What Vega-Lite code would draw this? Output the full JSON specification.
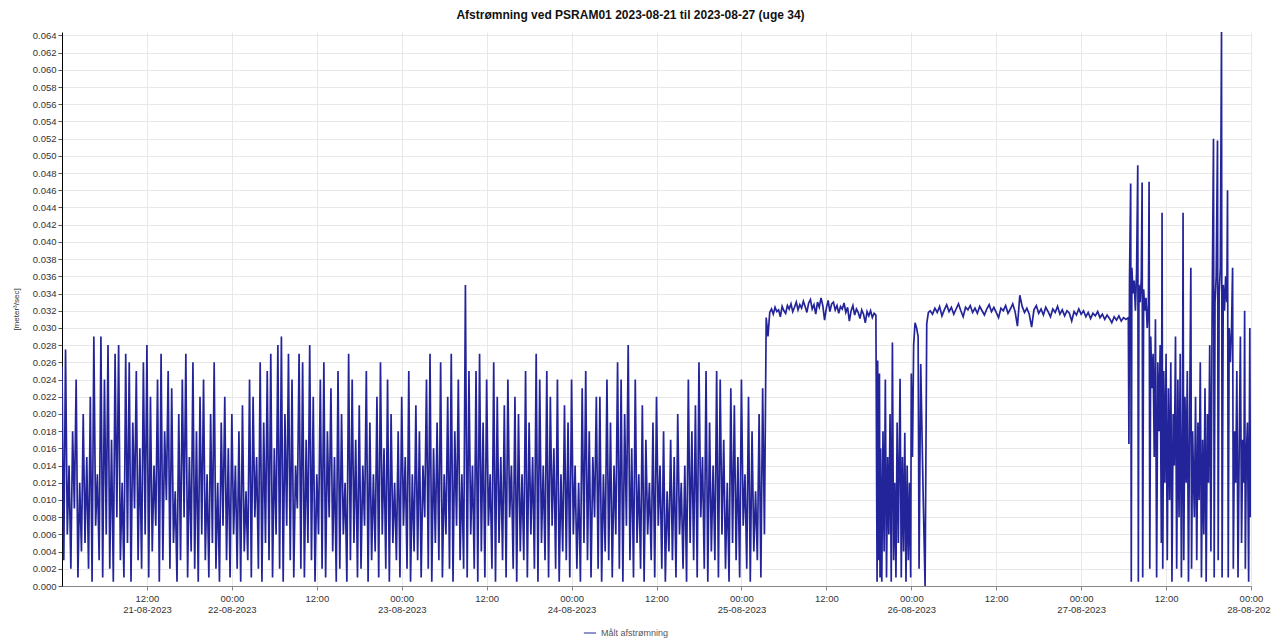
{
"$schema": "https://vega.github.io/schema/vega-lite/v6.json",
"width": 1189,
"height": 554,
"autosize": {"type": "none"},
"padding": {"left": 62, "top": 32, "right": 20, "bottom": 57},
"background": "white",
"config": {"font": "Liberation Sans", "view": {"stroke": null}},
"title": {"text": "Afstrømning ved PSRAM01 2023-08-21 til 2023-08-27 (uge 34)", "fontSize": 12, "fontWeight": "bold", "color": "#111111", "offset": 8, "dx": -26},
"data": {"values": [
{"t":"2023-08-21T00:00","v":0.0255},{"t":"2023-08-21T00:15","v":0.003},{"t":"2023-08-21T00:30","v":0.0275},{"t":"2023-08-21T00:45","v":0.006},
{"t":"2023-08-21T01:00","v":0.014},{"t":"2023-08-21T01:15","v":0.002},{"t":"2023-08-21T01:30","v":0.018},{"t":"2023-08-21T01:45","v":0.009},
{"t":"2023-08-21T02:00","v":0.024},{"t":"2023-08-21T02:15","v":0.001},{"t":"2023-08-21T02:30","v":0.012},{"t":"2023-08-21T02:45","v":0.004},
{"t":"2023-08-21T03:00","v":0.020},{"t":"2023-08-21T03:15","v":0.005},{"t":"2023-08-21T03:30","v":0.015},{"t":"2023-08-21T03:45","v":0.002},
{"t":"2023-08-21T04:00","v":0.022},{"t":"2023-08-21T04:15","v":0.0005},{"t":"2023-08-21T04:30","v":0.029},{"t":"2023-08-21T04:45","v":0.007},
{"t":"2023-08-21T05:00","v":0.013},{"t":"2023-08-21T05:15","v":0.003},{"t":"2023-08-21T05:30","v":0.029},{"t":"2023-08-21T05:45","v":0.001},
{"t":"2023-08-21T06:00","v":0.024},{"t":"2023-08-21T06:15","v":0.006},{"t":"2023-08-21T06:30","v":0.028},{"t":"2023-08-21T06:45","v":0.002},
{"t":"2023-08-21T07:00","v":0.017},{"t":"2023-08-21T07:15","v":0.0005},{"t":"2023-08-21T07:30","v":0.027},{"t":"2023-08-21T07:45","v":0.008},
{"t":"2023-08-21T08:00","v":0.028},{"t":"2023-08-21T08:15","v":0.003},{"t":"2023-08-21T08:30","v":0.012},{"t":"2023-08-21T08:45","v":0.001},
{"t":"2023-08-21T09:00","v":0.027},{"t":"2023-08-21T09:15","v":0.005},{"t":"2023-08-21T09:30","v":0.026},{"t":"2023-08-21T09:45","v":0.0005},
{"t":"2023-08-21T10:00","v":0.019},{"t":"2023-08-21T10:15","v":0.009},{"t":"2023-08-21T10:30","v":0.025},{"t":"2023-08-21T10:45","v":0.003},
{"t":"2023-08-21T11:00","v":0.016},{"t":"2023-08-21T11:15","v":0.002},{"t":"2023-08-21T11:30","v":0.026},{"t":"2023-08-21T11:45","v":0.006},
{"t":"2023-08-21T12:00","v":0.028},{"t":"2023-08-21T12:15","v":0.001},{"t":"2023-08-21T12:30","v":0.022},{"t":"2023-08-21T12:45","v":0.004},
{"t":"2023-08-21T13:00","v":0.014},{"t":"2023-08-21T13:15","v":0.007},{"t":"2023-08-21T13:30","v":0.024},{"t":"2023-08-21T13:45","v":0.0005},
{"t":"2023-08-21T14:00","v":0.027},{"t":"2023-08-21T14:15","v":0.003},{"t":"2023-08-21T14:30","v":0.018},{"t":"2023-08-21T14:45","v":0.010},
{"t":"2023-08-21T15:00","v":0.025},{"t":"2023-08-21T15:15","v":0.002},{"t":"2023-08-21T15:30","v":0.023},{"t":"2023-08-21T15:45","v":0.005},
{"t":"2023-08-21T16:00","v":0.011},{"t":"2023-08-21T16:15","v":0.0005},{"t":"2023-08-21T16:30","v":0.020},{"t":"2023-08-21T16:45","v":0.003},
{"t":"2023-08-21T17:00","v":0.024},{"t":"2023-08-21T17:15","v":0.008},{"t":"2023-08-21T17:30","v":0.027},{"t":"2023-08-21T17:45","v":0.001},
{"t":"2023-08-21T18:00","v":0.015},{"t":"2023-08-21T18:15","v":0.004},{"t":"2023-08-21T18:30","v":0.026},{"t":"2023-08-21T18:45","v":0.002},
{"t":"2023-08-21T19:00","v":0.018},{"t":"2023-08-21T19:15","v":0.0005},{"t":"2023-08-21T19:30","v":0.022},{"t":"2023-08-21T19:45","v":0.006},
{"t":"2023-08-21T20:00","v":0.024},{"t":"2023-08-21T20:15","v":0.003},{"t":"2023-08-21T20:30","v":0.013},{"t":"2023-08-21T20:45","v":0.001},
{"t":"2023-08-21T21:00","v":0.020},{"t":"2023-08-21T21:15","v":0.005},{"t":"2023-08-21T21:30","v":0.026},{"t":"2023-08-21T21:45","v":0.002},
{"t":"2023-08-21T22:00","v":0.012},{"t":"2023-08-21T22:15","v":0.0005},{"t":"2023-08-21T22:30","v":0.019},{"t":"2023-08-21T22:45","v":0.007},
{"t":"2023-08-21T23:00","v":0.022},{"t":"2023-08-21T23:15","v":0.003},{"t":"2023-08-21T23:30","v":0.016},{"t":"2023-08-21T23:45","v":0.001},
{"t":"2023-08-22T00:00","v":0.020},{"t":"2023-08-22T00:15","v":0.006},{"t":"2023-08-22T00:30","v":0.014},{"t":"2023-08-22T00:45","v":0.002},
{"t":"2023-08-22T01:00","v":0.018},{"t":"2023-08-22T01:15","v":0.0005},{"t":"2023-08-22T01:30","v":0.021},{"t":"2023-08-22T01:45","v":0.004},
{"t":"2023-08-22T02:00","v":0.011},{"t":"2023-08-22T02:15","v":0.003},{"t":"2023-08-22T02:30","v":0.024},{"t":"2023-08-22T02:45","v":0.001},
{"t":"2023-08-22T03:00","v":0.022},{"t":"2023-08-22T03:15","v":0.008},{"t":"2023-08-22T03:30","v":0.015},{"t":"2023-08-22T03:45","v":0.002},
{"t":"2023-08-22T04:00","v":0.026},{"t":"2023-08-22T04:15","v":0.0005},{"t":"2023-08-22T04:30","v":0.019},{"t":"2023-08-22T04:45","v":0.005},
{"t":"2023-08-22T05:00","v":0.025},{"t":"2023-08-22T05:15","v":0.003},{"t":"2023-08-22T05:30","v":0.027},{"t":"2023-08-22T05:45","v":0.001},
{"t":"2023-08-22T06:00","v":0.016},{"t":"2023-08-22T06:15","v":0.006},{"t":"2023-08-22T06:30","v":0.028},{"t":"2023-08-22T06:45","v":0.002},
{"t":"2023-08-22T07:00","v":0.029},{"t":"2023-08-22T07:15","v":0.0005},{"t":"2023-08-22T07:30","v":0.020},{"t":"2023-08-22T07:45","v":0.007},
{"t":"2023-08-22T08:00","v":0.027},{"t":"2023-08-22T08:15","v":0.003},{"t":"2023-08-22T08:30","v":0.024},{"t":"2023-08-22T08:45","v":0.001},
{"t":"2023-08-22T09:00","v":0.014},{"t":"2023-08-22T09:15","v":0.009},{"t":"2023-08-22T09:30","v":0.027},{"t":"2023-08-22T09:45","v":0.002},
{"t":"2023-08-22T10:00","v":0.026},{"t":"2023-08-22T10:15","v":0.001},{"t":"2023-08-22T10:30","v":0.017},{"t":"2023-08-22T10:45","v":0.005},
{"t":"2023-08-22T11:00","v":0.028},{"t":"2023-08-22T11:15","v":0.003},{"t":"2023-08-22T11:30","v":0.022},{"t":"2023-08-22T11:45","v":0.0005},
{"t":"2023-08-22T12:00","v":0.013},{"t":"2023-08-22T12:15","v":0.006},{"t":"2023-08-22T12:30","v":0.024},{"t":"2023-08-22T12:45","v":0.002},
{"t":"2023-08-22T13:00","v":0.026},{"t":"2023-08-22T13:15","v":0.001},{"t":"2023-08-22T13:30","v":0.018},{"t":"2023-08-22T13:45","v":0.008},
{"t":"2023-08-22T14:00","v":0.023},{"t":"2023-08-22T14:15","v":0.004},{"t":"2023-08-22T14:30","v":0.015},{"t":"2023-08-22T14:45","v":0.0005},
{"t":"2023-08-22T15:00","v":0.025},{"t":"2023-08-22T15:15","v":0.002},{"t":"2023-08-22T15:30","v":0.020},{"t":"2023-08-22T15:45","v":0.006},
{"t":"2023-08-22T16:00","v":0.012},{"t":"2023-08-22T16:15","v":0.0005},{"t":"2023-08-22T16:30","v":0.027},{"t":"2023-08-22T16:45","v":0.003},
{"t":"2023-08-22T17:00","v":0.024},{"t":"2023-08-22T17:15","v":0.005},{"t":"2023-08-22T17:30","v":0.017},{"t":"2023-08-22T17:45","v":0.001},
{"t":"2023-08-22T18:00","v":0.021},{"t":"2023-08-22T18:15","v":0.002},{"t":"2023-08-22T18:30","v":0.014},{"t":"2023-08-22T18:45","v":0.007},
{"t":"2023-08-22T19:00","v":0.025},{"t":"2023-08-22T19:15","v":0.0005},{"t":"2023-08-22T19:30","v":0.019},{"t":"2023-08-22T19:45","v":0.003},
{"t":"2023-08-22T20:00","v":0.013},{"t":"2023-08-22T20:15","v":0.004},{"t":"2023-08-22T20:30","v":0.022},{"t":"2023-08-22T20:45","v":0.001},
{"t":"2023-08-22T21:00","v":0.026},{"t":"2023-08-22T21:15","v":0.006},{"t":"2023-08-22T21:30","v":0.016},{"t":"2023-08-22T21:45","v":0.002},
{"t":"2023-08-22T22:00","v":0.024},{"t":"2023-08-22T22:15","v":0.0005},{"t":"2023-08-22T22:30","v":0.020},{"t":"2023-08-22T22:45","v":0.005},
{"t":"2023-08-22T23:00","v":0.012},{"t":"2023-08-22T23:15","v":0.003},{"t":"2023-08-22T23:30","v":0.018},{"t":"2023-08-22T23:45","v":0.001},
{"t":"2023-08-23T00:00","v":0.022},{"t":"2023-08-23T00:15","v":0.007},{"t":"2023-08-23T00:30","v":0.015},{"t":"2023-08-23T00:45","v":0.002},
{"t":"2023-08-23T01:00","v":0.025},{"t":"2023-08-23T01:15","v":0.0005},{"t":"2023-08-23T01:30","v":0.013},{"t":"2023-08-23T01:45","v":0.004},
{"t":"2023-08-23T02:00","v":0.021},{"t":"2023-08-23T02:15","v":0.003},{"t":"2023-08-23T02:30","v":0.018},{"t":"2023-08-23T02:45","v":0.001},
{"t":"2023-08-23T03:00","v":0.014},{"t":"2023-08-23T03:15","v":0.008},{"t":"2023-08-23T03:30","v":0.024},{"t":"2023-08-23T03:45","v":0.002},
{"t":"2023-08-23T04:00","v":0.027},{"t":"2023-08-23T04:15","v":0.0005},{"t":"2023-08-23T04:30","v":0.016},{"t":"2023-08-23T04:45","v":0.005},
{"t":"2023-08-23T05:00","v":0.019},{"t":"2023-08-23T05:15","v":0.003},{"t":"2023-08-23T05:30","v":0.026},{"t":"2023-08-23T05:45","v":0.001},
{"t":"2023-08-23T06:00","v":0.013},{"t":"2023-08-23T06:15","v":0.006},{"t":"2023-08-23T06:30","v":0.022},{"t":"2023-08-23T06:45","v":0.002},
{"t":"2023-08-23T07:00","v":0.027},{"t":"2023-08-23T07:15","v":0.0005},{"t":"2023-08-23T07:30","v":0.018},{"t":"2023-08-23T07:45","v":0.007},
{"t":"2023-08-23T08:00","v":0.024},{"t":"2023-08-23T08:15","v":0.003},{"t":"2023-08-23T08:30","v":0.013},{"t":"2023-08-23T08:45","v":0.002},
{"t":"2023-08-23T09:00","v":0.035},{"t":"2023-08-23T09:15","v":0.001},{"t":"2023-08-23T09:30","v":0.025},{"t":"2023-08-23T09:45","v":0.006},
{"t":"2023-08-23T10:00","v":0.014},{"t":"2023-08-23T10:15","v":0.002},{"t":"2023-08-23T10:30","v":0.025},{"t":"2023-08-23T10:45","v":0.0005},
{"t":"2023-08-23T11:00","v":0.027},{"t":"2023-08-23T11:15","v":0.004},{"t":"2023-08-23T11:30","v":0.019},{"t":"2023-08-23T11:45","v":0.001},
{"t":"2023-08-23T12:00","v":0.024},{"t":"2023-08-23T12:15","v":0.007},{"t":"2023-08-23T12:30","v":0.013},{"t":"2023-08-23T12:45","v":0.002},
{"t":"2023-08-23T13:00","v":0.026},{"t":"2023-08-23T13:15","v":0.0005},{"t":"2023-08-23T13:30","v":0.022},{"t":"2023-08-23T13:45","v":0.005},
{"t":"2023-08-23T14:00","v":0.015},{"t":"2023-08-23T14:15","v":0.003},{"t":"2023-08-23T14:30","v":0.021},{"t":"2023-08-23T14:45","v":0.001},
{"t":"2023-08-23T15:00","v":0.024},{"t":"2023-08-23T15:15","v":0.008},{"t":"2023-08-23T15:30","v":0.014},{"t":"2023-08-23T15:45","v":0.002},
{"t":"2023-08-23T16:00","v":0.022},{"t":"2023-08-23T16:15","v":0.0005},{"t":"2023-08-23T16:30","v":0.020},{"t":"2023-08-23T16:45","v":0.004},
{"t":"2023-08-23T17:00","v":0.013},{"t":"2023-08-23T17:15","v":0.003},{"t":"2023-08-23T17:30","v":0.025},{"t":"2023-08-23T17:45","v":0.001},
{"t":"2023-08-23T18:00","v":0.019},{"t":"2023-08-23T18:15","v":0.006},{"t":"2023-08-23T18:30","v":0.015},{"t":"2023-08-23T18:45","v":0.002},
{"t":"2023-08-23T19:00","v":0.027},{"t":"2023-08-23T19:15","v":0.0005},{"t":"2023-08-23T19:30","v":0.024},{"t":"2023-08-23T19:45","v":0.005},
{"t":"2023-08-23T20:00","v":0.014},{"t":"2023-08-23T20:15","v":0.003},{"t":"2023-08-23T20:30","v":0.025},{"t":"2023-08-23T20:45","v":0.001},
{"t":"2023-08-23T21:00","v":0.022},{"t":"2023-08-23T21:15","v":0.007},{"t":"2023-08-23T21:30","v":0.016},{"t":"2023-08-23T21:45","v":0.002},
{"t":"2023-08-23T22:00","v":0.024},{"t":"2023-08-23T22:15","v":0.0005},{"t":"2023-08-23T22:30","v":0.013},{"t":"2023-08-23T22:45","v":0.004},
{"t":"2023-08-23T23:00","v":0.021},{"t":"2023-08-23T23:15","v":0.003},{"t":"2023-08-23T23:30","v":0.019},{"t":"2023-08-23T23:45","v":0.001},
{"t":"2023-08-24T00:00","v":0.024},{"t":"2023-08-24T00:15","v":0.006},{"t":"2023-08-24T00:30","v":0.014},{"t":"2023-08-24T00:45","v":0.002},
{"t":"2023-08-24T01:00","v":0.012},{"t":"2023-08-24T01:15","v":0.0005},{"t":"2023-08-24T01:30","v":0.023},{"t":"2023-08-24T01:45","v":0.005},
{"t":"2023-08-24T02:00","v":0.025},{"t":"2023-08-24T02:15","v":0.003},{"t":"2023-08-24T02:30","v":0.018},{"t":"2023-08-24T02:45","v":0.001},
{"t":"2023-08-24T03:00","v":0.015},{"t":"2023-08-24T03:15","v":0.008},{"t":"2023-08-24T03:30","v":0.022},{"t":"2023-08-24T03:45","v":0.002},
{"t":"2023-08-24T04:00","v":0.022},{"t":"2023-08-24T04:15","v":0.0005},{"t":"2023-08-24T04:30","v":0.013},{"t":"2023-08-24T04:45","v":0.004},
{"t":"2023-08-24T05:00","v":0.024},{"t":"2023-08-24T05:15","v":0.003},{"t":"2023-08-24T05:30","v":0.019},{"t":"2023-08-24T05:45","v":0.001},
{"t":"2023-08-24T06:00","v":0.014},{"t":"2023-08-24T06:15","v":0.006},{"t":"2023-08-24T06:30","v":0.026},{"t":"2023-08-24T06:45","v":0.002},
{"t":"2023-08-24T07:00","v":0.024},{"t":"2023-08-24T07:15","v":0.0005},{"t":"2023-08-24T07:30","v":0.020},{"t":"2023-08-24T07:45","v":0.007},
{"t":"2023-08-24T08:00","v":0.028},{"t":"2023-08-24T08:15","v":0.003},{"t":"2023-08-24T08:30","v":0.016},{"t":"2023-08-24T08:45","v":0.001},
{"t":"2023-08-24T09:00","v":0.024},{"t":"2023-08-24T09:15","v":0.005},{"t":"2023-08-24T09:30","v":0.013},{"t":"2023-08-24T09:45","v":0.002},
{"t":"2023-08-24T10:00","v":0.021},{"t":"2023-08-24T10:15","v":0.0005},{"t":"2023-08-24T10:30","v":0.017},{"t":"2023-08-24T10:45","v":0.006},
{"t":"2023-08-24T11:00","v":0.012},{"t":"2023-08-24T11:15","v":0.003},{"t":"2023-08-24T11:30","v":0.019},{"t":"2023-08-24T11:45","v":0.001},
{"t":"2023-08-24T12:00","v":0.022},{"t":"2023-08-24T12:15","v":0.007},{"t":"2023-08-24T12:30","v":0.014},{"t":"2023-08-24T12:45","v":0.002},
{"t":"2023-08-24T13:00","v":0.018},{"t":"2023-08-24T13:15","v":0.0005},{"t":"2023-08-24T13:30","v":0.011},{"t":"2023-08-24T13:45","v":0.004},
{"t":"2023-08-24T14:00","v":0.017},{"t":"2023-08-24T14:15","v":0.003},{"t":"2023-08-24T14:30","v":0.015},{"t":"2023-08-24T14:45","v":0.001},
{"t":"2023-08-24T15:00","v":0.020},{"t":"2023-08-24T15:15","v":0.006},{"t":"2023-08-24T15:30","v":0.012},{"t":"2023-08-24T15:45","v":0.002},
{"t":"2023-08-24T16:00","v":0.014},{"t":"2023-08-24T16:15","v":0.0005},{"t":"2023-08-24T16:30","v":0.024},{"t":"2023-08-24T16:45","v":0.005},
{"t":"2023-08-24T17:00","v":0.018},{"t":"2023-08-24T17:15","v":0.003},{"t":"2023-08-24T17:30","v":0.021},{"t":"2023-08-24T17:45","v":0.001},
{"t":"2023-08-24T18:00","v":0.026},{"t":"2023-08-24T18:15","v":0.008},{"t":"2023-08-24T18:30","v":0.015},{"t":"2023-08-24T18:45","v":0.002},
{"t":"2023-08-24T19:00","v":0.025},{"t":"2023-08-24T19:15","v":0.0005},{"t":"2023-08-24T19:30","v":0.019},{"t":"2023-08-24T19:45","v":0.004},
{"t":"2023-08-24T20:00","v":0.014},{"t":"2023-08-24T20:15","v":0.003},{"t":"2023-08-24T20:30","v":0.025},{"t":"2023-08-24T20:45","v":0.001},
{"t":"2023-08-24T21:00","v":0.024},{"t":"2023-08-24T21:15","v":0.006},{"t":"2023-08-24T21:30","v":0.017},{"t":"2023-08-24T21:45","v":0.002},
{"t":"2023-08-24T22:00","v":0.012},{"t":"2023-08-24T22:15","v":0.0005},{"t":"2023-08-24T22:30","v":0.023},{"t":"2023-08-24T22:45","v":0.005},
{"t":"2023-08-24T23:00","v":0.021},{"t":"2023-08-24T23:15","v":0.003},{"t":"2023-08-24T23:30","v":0.015},{"t":"2023-08-24T23:45","v":0.001},
{"t":"2023-08-25T00:00","v":0.024},{"t":"2023-08-25T00:15","v":0.007},{"t":"2023-08-25T00:30","v":0.013},{"t":"2023-08-25T00:45","v":0.002},
{"t":"2023-08-25T01:00","v":0.022},{"t":"2023-08-25T01:15","v":0.0005},{"t":"2023-08-25T01:30","v":0.018},{"t":"2023-08-25T01:45","v":0.004},
{"t":"2023-08-25T02:00","v":0.011},{"t":"2023-08-25T02:15","v":0.003},{"t":"2023-08-25T02:30","v":0.020},{"t":"2023-08-25T02:45","v":0.001},
{"t":"2023-08-25T03:00","v":0.023},{"t":"2023-08-25T03:15","v":0.006},
{"t":"2023-08-25T03:30","v":0.0312},{"t":"2023-08-25T03:45","v":0.0290},{"t":"2023-08-25T04:00","v":0.0318},{"t":"2023-08-25T04:15","v":0.0322},
{"t":"2023-08-25T04:30","v":0.0316},{"t":"2023-08-25T04:45","v":0.0324},{"t":"2023-08-25T05:00","v":0.0319},{"t":"2023-08-25T05:15","v":0.0321},
{"t":"2023-08-25T05:30","v":0.0313},{"t":"2023-08-25T05:45","v":0.0325},{"t":"2023-08-25T06:00","v":0.0320},{"t":"2023-08-25T06:15","v":0.0317},
{"t":"2023-08-25T06:30","v":0.0326},{"t":"2023-08-25T06:45","v":0.0322},{"t":"2023-08-25T07:00","v":0.0328},{"t":"2023-08-25T07:15","v":0.0319},
{"t":"2023-08-25T07:30","v":0.0324},{"t":"2023-08-25T07:45","v":0.0330},{"t":"2023-08-25T08:00","v":0.0321},{"t":"2023-08-25T08:15","v":0.0327},
{"t":"2023-08-25T08:30","v":0.0323},{"t":"2023-08-25T08:45","v":0.0331},{"t":"2023-08-25T09:00","v":0.0325},{"t":"2023-08-25T09:15","v":0.0318},
{"t":"2023-08-25T09:30","v":0.0329},{"t":"2023-08-25T09:45","v":0.0333},{"t":"2023-08-25T10:00","v":0.0322},{"t":"2023-08-25T10:15","v":0.0327},
{"t":"2023-08-25T10:30","v":0.0316},{"t":"2023-08-25T10:45","v":0.0330},{"t":"2023-08-25T11:00","v":0.0324},{"t":"2023-08-25T11:15","v":0.0335},
{"t":"2023-08-25T11:30","v":0.0326},{"t":"2023-08-25T11:45","v":0.0309},{"t":"2023-08-25T12:00","v":0.0323},{"t":"2023-08-25T12:15","v":0.0332},
{"t":"2023-08-25T12:30","v":0.0319},{"t":"2023-08-25T12:45","v":0.0328},{"t":"2023-08-25T13:00","v":0.0330},{"t":"2023-08-25T13:15","v":0.0321},
{"t":"2023-08-25T13:30","v":0.0326},{"t":"2023-08-25T13:45","v":0.0317},{"t":"2023-08-25T14:00","v":0.0325},{"t":"2023-08-25T14:15","v":0.0322},
{"t":"2023-08-25T14:30","v":0.0329},{"t":"2023-08-25T14:45","v":0.0318},{"t":"2023-08-25T15:00","v":0.0324},{"t":"2023-08-25T15:15","v":0.0308},
{"t":"2023-08-25T15:30","v":0.0320},{"t":"2023-08-25T15:45","v":0.0326},{"t":"2023-08-25T16:00","v":0.0315},{"t":"2023-08-25T16:15","v":0.0322},
{"t":"2023-08-25T16:30","v":0.0318},{"t":"2023-08-25T16:45","v":0.0311},{"t":"2023-08-25T17:00","v":0.0321},{"t":"2023-08-25T17:15","v":0.0316},
{"t":"2023-08-25T17:30","v":0.0306},{"t":"2023-08-25T17:45","v":0.0319},{"t":"2023-08-25T18:00","v":0.0314},{"t":"2023-08-25T18:15","v":0.0320},
{"t":"2023-08-25T18:30","v":0.0312},{"t":"2023-08-25T18:45","v":0.0317},{"t":"2023-08-25T19:00","v":0.0315},
{"t":"2023-08-25T19:10","v":0.0005},{"t":"2023-08-25T19:15","v":0.0262},{"t":"2023-08-25T19:20","v":0.003},{"t":"2023-08-25T19:30","v":0.0247},
{"t":"2023-08-25T19:35","v":0.001},{"t":"2023-08-25T19:40","v":0.016},{"t":"2023-08-25T19:50","v":0.0005},{"t":"2023-08-25T20:00","v":0.018},
{"t":"2023-08-25T20:10","v":0.004},{"t":"2023-08-25T20:20","v":0.024},{"t":"2023-08-25T20:30","v":0.001},{"t":"2023-08-25T20:40","v":0.015},
{"t":"2023-08-25T20:50","v":0.006},{"t":"2023-08-25T21:00","v":0.020},{"t":"2023-08-25T21:10","v":0.0005},{"t":"2023-08-25T21:20","v":0.0283},
{"t":"2023-08-25T21:30","v":0.003},{"t":"2023-08-25T21:40","v":0.012},{"t":"2023-08-25T21:50","v":0.001},{"t":"2023-08-25T22:00","v":0.019},
{"t":"2023-08-25T22:10","v":0.005},{"t":"2023-08-25T22:25","v":0.0241},{"t":"2023-08-25T22:35","v":0.001},{"t":"2023-08-25T22:45","v":0.015},
{"t":"2023-08-25T22:55","v":0.004},{"t":"2023-08-25T23:05","v":0.0178},{"t":"2023-08-25T23:15","v":0.0005},{"t":"2023-08-25T23:25","v":0.014},
{"t":"2023-08-25T23:35","v":0.003},{"t":"2023-08-25T23:45","v":0.012},{"t":"2023-08-25T23:55","v":0.001},{"t":"2023-08-26T00:00","v":0.0247},
{"t":"2023-08-26T00:10","v":0.015},{"t":"2023-08-26T00:20","v":0.028},{"t":"2023-08-26T00:32","v":0.0306},{"t":"2023-08-26T00:45","v":0.030},
{"t":"2023-08-26T00:58","v":0.029},{"t":"2023-08-26T01:06","v":0.002},{"t":"2023-08-26T01:20","v":0.0258},{"t":"2023-08-26T01:40","v":0.011},
{"t":"2023-08-26T01:57","v":0.0},{"t":"2023-08-26T02:11","v":0.0305},{"t":"2023-08-26T02:25","v":0.0318},
{"t":"2023-08-26T02:40","v":0.0320},{"t":"2023-08-26T03:00","v":0.0316},{"t":"2023-08-26T03:20","v":0.0323},{"t":"2023-08-26T03:40","v":0.0318},
{"t":"2023-08-26T04:00","v":0.0325},{"t":"2023-08-26T04:20","v":0.0314},{"t":"2023-08-26T04:40","v":0.0321},{"t":"2023-08-26T05:00","v":0.0327},
{"t":"2023-08-26T05:20","v":0.0319},{"t":"2023-08-26T05:40","v":0.0324},{"t":"2023-08-26T06:00","v":0.0316},{"t":"2023-08-26T06:20","v":0.0322},
{"t":"2023-08-26T06:40","v":0.0328},{"t":"2023-08-26T07:00","v":0.0320},{"t":"2023-08-26T07:20","v":0.0313},{"t":"2023-08-26T07:40","v":0.0324},
{"t":"2023-08-26T08:00","v":0.0321},{"t":"2023-08-26T08:20","v":0.0326},{"t":"2023-08-26T08:40","v":0.0318},{"t":"2023-08-26T09:00","v":0.0323},
{"t":"2023-08-26T09:20","v":0.0317},{"t":"2023-08-26T09:40","v":0.0325},{"t":"2023-08-26T10:00","v":0.0320},{"t":"2023-08-26T10:20","v":0.0315},
{"t":"2023-08-26T10:40","v":0.0322},{"t":"2023-08-26T11:00","v":0.0327},{"t":"2023-08-26T11:20","v":0.0319},{"t":"2023-08-26T11:40","v":0.0324},
{"t":"2023-08-26T12:00","v":0.0318},{"t":"2023-08-26T12:20","v":0.0312},{"t":"2023-08-26T12:40","v":0.0323},{"t":"2023-08-26T13:00","v":0.0320},
{"t":"2023-08-26T13:20","v":0.0326},{"t":"2023-08-26T13:40","v":0.0317},{"t":"2023-08-26T14:00","v":0.0322},{"t":"2023-08-26T14:20","v":0.0328},
{"t":"2023-08-26T14:40","v":0.0319},{"t":"2023-08-26T15:00","v":0.0302},{"t":"2023-08-26T15:20","v":0.0338},{"t":"2023-08-26T15:40","v":0.0325},
{"t":"2023-08-26T16:00","v":0.0318},{"t":"2023-08-26T16:20","v":0.0323},{"t":"2023-08-26T16:40","v":0.0316},{"t":"2023-08-26T17:00","v":0.0301},
{"t":"2023-08-26T17:20","v":0.0321},{"t":"2023-08-26T17:40","v":0.0326},{"t":"2023-08-26T18:00","v":0.0317},{"t":"2023-08-26T18:20","v":0.0322},
{"t":"2023-08-26T18:40","v":0.0315},{"t":"2023-08-26T19:00","v":0.0324},{"t":"2023-08-26T19:20","v":0.0319},{"t":"2023-08-26T19:40","v":0.0313},
{"t":"2023-08-26T20:00","v":0.0322},{"t":"2023-08-26T20:20","v":0.0318},{"t":"2023-08-26T20:40","v":0.0325},{"t":"2023-08-26T21:00","v":0.0316},
{"t":"2023-08-26T21:20","v":0.0321},{"t":"2023-08-26T21:40","v":0.0314},{"t":"2023-08-26T22:00","v":0.0320},{"t":"2023-08-26T22:20","v":0.0317},
{"t":"2023-08-26T22:40","v":0.0308},{"t":"2023-08-26T23:00","v":0.0319},{"t":"2023-08-26T23:20","v":0.0315},{"t":"2023-08-26T23:40","v":0.0322},
{"t":"2023-08-27T00:00","v":0.0316},{"t":"2023-08-27T00:20","v":0.0320},{"t":"2023-08-27T00:40","v":0.0313},{"t":"2023-08-27T01:00","v":0.0318},
{"t":"2023-08-27T01:20","v":0.0311},{"t":"2023-08-27T01:40","v":0.0317},{"t":"2023-08-27T02:00","v":0.0314},{"t":"2023-08-27T02:20","v":0.0319},
{"t":"2023-08-27T02:40","v":0.0312},{"t":"2023-08-27T03:00","v":0.0316},{"t":"2023-08-27T03:20","v":0.0310},{"t":"2023-08-27T03:40","v":0.0315},
{"t":"2023-08-27T04:00","v":0.0311},{"t":"2023-08-27T04:20","v":0.0306},{"t":"2023-08-27T04:40","v":0.0313},{"t":"2023-08-27T05:00","v":0.0309},
{"t":"2023-08-27T05:20","v":0.0314},{"t":"2023-08-27T05:40","v":0.0308},{"t":"2023-08-27T06:00","v":0.0312},{"t":"2023-08-27T06:20","v":0.0310},
{"t":"2023-08-27T06:40","v":0.0312},{"t":"2023-08-27T06:45","v":0.0165},{"t":"2023-08-27T06:50","v":0.0355},{"t":"2023-08-27T07:00","v":0.0468},
{"t":"2023-08-27T07:05","v":0.0005},{"t":"2023-08-27T07:10","v":0.037},{"t":"2023-08-27T07:20","v":0.034},{"t":"2023-08-27T07:30","v":0.0355},
{"t":"2023-08-27T07:40","v":0.032},{"t":"2023-08-27T07:50","v":0.0365},{"t":"2023-08-27T08:00","v":0.0489},{"t":"2023-08-27T08:05","v":0.0005},
{"t":"2023-08-27T08:10","v":0.035},{"t":"2023-08-27T08:20","v":0.033},{"t":"2023-08-27T08:30","v":0.0358},{"t":"2023-08-27T08:37","v":0.0469},
{"t":"2023-08-27T08:42","v":0.001},{"t":"2023-08-27T08:50","v":0.0345},{"t":"2023-08-27T09:00","v":0.032},{"t":"2023-08-27T09:10","v":0.0335},
{"t":"2023-08-27T09:20","v":0.030},{"t":"2023-08-27T09:30","v":0.0325},{"t":"2023-08-27T09:36","v":0.047},{"t":"2023-08-27T09:42","v":0.002},
{"t":"2023-08-27T09:50","v":0.029},{"t":"2023-08-27T10:00","v":0.023},{"t":"2023-08-27T10:10","v":0.027},{"t":"2023-08-27T10:20","v":0.015},
{"t":"2023-08-27T10:30","v":0.031},{"t":"2023-08-27T10:40","v":0.001},{"t":"2023-08-27T10:50","v":0.026},{"t":"2023-08-27T11:00","v":0.018},
{"t":"2023-08-27T11:10","v":0.028},{"t":"2023-08-27T11:20","v":0.005},{"t":"2023-08-27T11:26","v":0.0434},{"t":"2023-08-27T11:32","v":0.002},
{"t":"2023-08-27T11:40","v":0.025},{"t":"2023-08-27T11:50","v":0.012},{"t":"2023-08-27T12:00","v":0.027},{"t":"2023-08-27T12:10","v":0.003},
{"t":"2023-08-27T12:20","v":0.023},{"t":"2023-08-27T12:30","v":0.010},{"t":"2023-08-27T12:40","v":0.026},{"t":"2023-08-27T12:50","v":0.0005},
{"t":"2023-08-27T13:00","v":0.020},{"t":"2023-08-27T13:10","v":0.014},{"t":"2023-08-27T13:20","v":0.029},{"t":"2023-08-27T13:30","v":0.002},
{"t":"2023-08-27T13:40","v":0.024},{"t":"2023-08-27T13:50","v":0.008},{"t":"2023-08-27T14:00","v":0.027},{"t":"2023-08-27T14:10","v":0.001},
{"t":"2023-08-27T14:20","v":0.021},{"t":"2023-08-27T14:24","v":0.0434},{"t":"2023-08-27T14:30","v":0.003},{"t":"2023-08-27T14:40","v":0.022},
{"t":"2023-08-27T14:50","v":0.012},{"t":"2023-08-27T15:00","v":0.025},{"t":"2023-08-27T15:10","v":0.0005},{"t":"2023-08-27T15:20","v":0.020},
{"t":"2023-08-27T15:30","v":0.037},{"t":"2023-08-27T15:36","v":0.002},{"t":"2023-08-27T15:45","v":0.018},{"t":"2023-08-27T16:00","v":0.008},
{"t":"2023-08-27T16:10","v":0.022},{"t":"2023-08-27T16:20","v":0.003},{"t":"2023-08-27T16:30","v":0.019},{"t":"2023-08-27T16:40","v":0.010},
{"t":"2023-08-27T16:50","v":0.026},{"t":"2023-08-27T17:00","v":0.001},{"t":"2023-08-27T17:10","v":0.017},{"t":"2023-08-27T17:20","v":0.006},
{"t":"2023-08-27T17:30","v":0.023},{"t":"2023-08-27T17:40","v":0.0005},{"t":"2023-08-27T17:50","v":0.020},{"t":"2023-08-27T18:00","v":0.012},
{"t":"2023-08-27T18:10","v":0.028},{"t":"2023-08-27T18:20","v":0.004},{"t":"2023-08-27T18:30","v":0.031},{"t":"2023-08-27T18:42","v":0.052},
{"t":"2023-08-27T18:48","v":0.001},{"t":"2023-08-27T18:55","v":0.033},{"t":"2023-08-27T19:05","v":0.036},{"t":"2023-08-27T19:16","v":0.0518},
{"t":"2023-08-27T19:22","v":0.003},{"t":"2023-08-27T19:30","v":0.034},{"t":"2023-08-27T19:40","v":0.037},{"t":"2023-08-27T19:50","v":0.0644},
{"t":"2023-08-27T19:55","v":0.001},{"t":"2023-08-27T20:05","v":0.035},{"t":"2023-08-27T20:15","v":0.032},{"t":"2023-08-27T20:25","v":0.036},
{"t":"2023-08-27T20:35","v":0.033},{"t":"2023-08-27T20:41","v":0.046},{"t":"2023-08-27T20:47","v":0.001},{"t":"2023-08-27T20:55","v":0.030},
{"t":"2023-08-27T21:05","v":0.026},{"t":"2023-08-27T21:15","v":0.030},{"t":"2023-08-27T21:24","v":0.037},{"t":"2023-08-27T21:30","v":0.002},
{"t":"2023-08-27T21:40","v":0.018},{"t":"2023-08-27T21:50","v":0.012},{"t":"2023-08-27T22:00","v":0.025},{"t":"2023-08-27T22:10","v":0.001},
{"t":"2023-08-27T22:20","v":0.016},{"t":"2023-08-27T22:30","v":0.029},{"t":"2023-08-27T22:40","v":0.005},{"t":"2023-08-27T22:50","v":0.017},
{"t":"2023-08-27T23:00","v":0.012},{"t":"2023-08-27T23:06","v":0.032},{"t":"2023-08-27T23:12","v":0.002},{"t":"2023-08-27T23:20","v":0.015},
{"t":"2023-08-27T23:30","v":0.019},{"t":"2023-08-27T23:40","v":0.0005},{"t":"2023-08-27T23:50","v":0.030},{"t":"2023-08-27T23:55","v":0.008},
{"t":"2023-08-28T00:00","v":0.016}
]},
"mark": {"type": "line", "strokeWidth": 1.7, "clip": true},
"encoding": {
"x": {"field": "t", "type": "temporal",
 "scale": {"domain": [{"year": 2023, "month": 8, "date": 21}, {"year": 2023, "month": 8, "date": 28}]},
 "axis": {"title": null,
  "values": [{"year":2023,"month":8,"date":21,"hours":12},{"year":2023,"month":8,"date":22},{"year":2023,"month":8,"date":22,"hours":12},{"year":2023,"month":8,"date":23},{"year":2023,"month":8,"date":23,"hours":12},{"year":2023,"month":8,"date":24},{"year":2023,"month":8,"date":24,"hours":12},{"year":2023,"month":8,"date":25},{"year":2023,"month":8,"date":25,"hours":12},{"year":2023,"month":8,"date":26},{"year":2023,"month":8,"date":26,"hours":12},{"year":2023,"month":8,"date":27},{"year":2023,"month":8,"date":27,"hours":12},{"year":2023,"month":8,"date":28}],
  "labelExpr": "hours(datum.value) == 0 || (hours(datum.value) == 12 && date(datum.value) == 21) ? [timeFormat(datum.value, '%H:%M'), timeFormat(datum.value, '%d-%m-%Y')] : timeFormat(datum.value, '%H:%M')",
  "grid": true, "gridColor": "#e8e8e8", "domainColor": "#888888", "tickColor": "#888888", "tickSize": 4,
  "labelFontSize": 9.5, "labelColor": "#333333", "labelPadding": 3, "labelLineHeight": 11, "labelOverlap": false, "labelFlush": false}},
"y": {"field": "v", "type": "quantitative",
 "scale": {"domain": [0, 0.0644], "nice": false, "zero": true},
 "axis": {"title": "[meter³/sec]", "titleFontSize": 8, "titleFontWeight": "normal", "titleColor": "#333333", "titlePadding": 12,
  "values": [0,0.002,0.004,0.006,0.008,0.01,0.012,0.014,0.016,0.018,0.02,0.022,0.024,0.026,0.028,0.03,0.032,0.034,0.036,0.038,0.04,0.042,0.044,0.046,0.048,0.05,0.052,0.054,0.056,0.058,0.06,0.062,0.064],
  "format": ".3f", "labelFontSize": 9.5, "labelColor": "#333333", "grid": true, "gridColor": "#e8e8e8", "domainColor": "#000000", "tickColor": "#555555", "tickSize": 4, "labelPadding": 2}},
"color": {"datum": "Målt afstrømning", "type": "nominal", "scale": {"range": ["#24249a"]},
 "legend": {"title": null, "orient": "none", "legendX": 521, "legendY": 594, "symbolType": "stroke", "symbolStrokeWidth": 1, "symbolSize": 150, "labelFontSize": 9, "labelColor": "#555555"}}
}
}
